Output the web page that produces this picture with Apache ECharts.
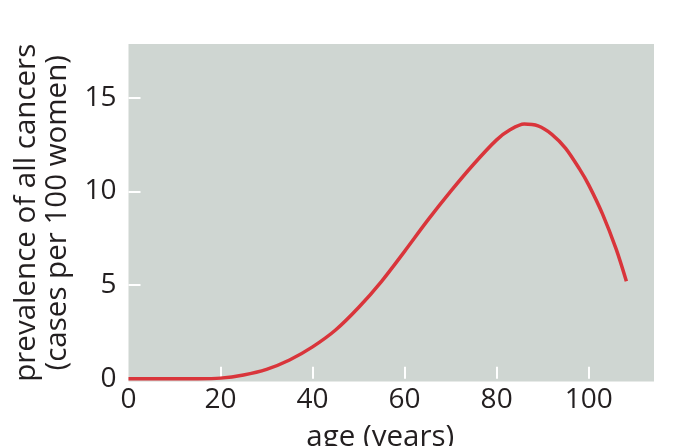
<!DOCTYPE html>
<html>
<head>
<meta charset="utf-8">
<script src="https://cdn.jsdelivr.net/npm/echarts@6/dist/echarts.min.js"></script>
<style>html,body{margin:0;padding:0;background:#fff;}#c{width:696px;height:446px;}</style>
</head>
<body>
<div id="c"></div>
<script>
const ages = [0, 5, 10, 15, 20, 25, 30, 35, 40, 45, 50, 55, 60, 65, 70, 75, 80, 83, 86, 89, 92, 95, 98, 100, 103, 106, 108.2];
const prevalence = [0, 0, 0, 0, 0.03, 0.2, 0.5, 1.0, 1.7, 2.6, 3.8, 5.2, 6.8, 8.45, 10.0, 11.45, 12.75, 13.3, 13.6, 13.5, 13.05, 12.3, 11.2, 10.35, 8.8, 6.9, 5.2];
const xTickLabels = [0, 20, 40, 60, 80, 100];
const yTickLabels = [0, 5, 10, 15];

const chart = echarts.init(document.getElementById('c'), null, {renderer: 'canvas'});
const font = '"Open Sans", "Noto Sans", sans-serif';
const txt = '#231f20';
chart.setOption({
  animation: false,
  grid: {left: 128.5, right: 42, top: 44, bottom: 64.5, show: true, backgroundColor: '#cfd6d2', borderWidth: 0, outerBoundsMode: 'none', containLabel: false},
  xAxis: {
    type: 'value', min: 0, max: 114.2,
    name: 'age (years)', nameLocation: 'middle', nameGap: 37,
    nameTextStyle: {fontFamily: font, fontSize: 29.5, color: txt, lineHeight: 33, padding: [0, 22, 0, 0]},
    axisLine: {show: false},
    splitLine: {show: false},
    axisTick: {show: true, inside: true, length: 12, lineStyle: {color: '#ffffff', width: 2}, customValues: xTickLabels.filter(v => v > 0)},
    axisLabel: {fontFamily: font, fontSize: 28, color: txt, margin: 2, lineHeight: 33, customValues: xTickLabels}
  },
  yAxis: {
    type: 'value', min: -0.15, max: 17.87,
    name: 'prevalence of all cancers\n(cases per 100 women)', nameLocation: 'middle', nameRotate: 90, nameGap: 55,
    nameTextStyle: {fontFamily: font, fontSize: 29.5, color: txt, lineHeight: 31},
    axisLine: {show: false},
    splitLine: {show: false},
    axisTick: {show: true, inside: true, length: 12, lineStyle: {color: '#ffffff', width: 2}, customValues: yTickLabels.filter(v => v > 0)},
    axisLabel: {fontFamily: font, fontSize: 28, color: txt, margin: 12, customValues: yTickLabels}
  },
  series: [{
    type: 'line', data: ages.map((a, i) => [a, prevalence[i]]),
    smooth: 0.3, showSymbol: false,
    lineStyle: {color: '#d9353b', width: 3.5}
  }]
});
</script>
</body>
</html>
